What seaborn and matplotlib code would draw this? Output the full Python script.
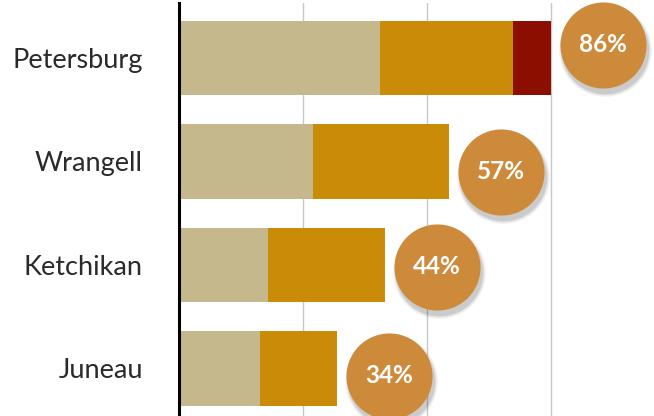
import matplotlib
matplotlib.use("Agg")
import matplotlib.pyplot as plt
import seaborn as sns
import pandas as pd
import numpy as np

categories = ["Petersburg", "Wrangell", "Ketchikan", "Juneau"]
seg_beige = [40.5, 27.0, 17.9, 16.3]
seg_gold = [26.8, 27.4, 23.6, 15.5]
seg_red = [7.7, 0.0, 0.0, 0.0]
pct_labels = ["86%", "57%", "44%", "34%"]
badge_dy = [-0.125, 0.10, 0.02, 0.07]

sns.set_theme(style="white")
plt.rcParams["font.family"] = ["Lato", "DejaVu Sans"]

c_beige = "#C5B88C"
c_gold = "#C98B08"
c_red = "#8B0E00"
c_badge = "#CD8A3B"

df = pd.DataFrame({"cat": categories, "b": seg_beige, "g": seg_gold, "r": seg_red})
df["t1"] = df["b"]
df["t2"] = df["b"] + df["g"]
df["t3"] = df["t2"] + df["r"]

W, H = 654, 416
fig = plt.figure(figsize=(W / 100, H / 100), dpi=100)
ax = fig.add_axes([179 / W, 0, (W - 179) / W, 413 / H])

for col, color in [("t3", c_red), ("t2", c_gold), ("t1", c_beige)]:
    sns.barplot(data=df, y="cat", x=col, color=color, orient="h", width=0.72,
                ax=ax, saturation=1, edgecolor="none", linewidth=0, zorder=3)

ax.set_xlim(0, (W - 179) / 4.96)
ax.set_ylim(3.46, -0.53)
ax.set_xticks([25, 50, 75])
ax.set_xticklabels([])
ax.xaxis.grid(True, color="#c8c8c8", linewidth=1.0, zorder=0)
ax.yaxis.grid(False)
ax.set_xlabel("")
ax.set_ylabel("")
for s in ["top", "right", "bottom"]:
    ax.spines[s].set_visible(False)
ax.spines["left"].set_color("black")
ax.spines["left"].set_linewidth(2.2)
ax.spines["left"].set_zorder(5)
ax.tick_params(axis="y", length=0, pad=26)
ax.tick_params(axis="x", length=0)
for lbl in ax.get_yticklabels():
    lbl.set_fontsize(19.5)
    lbl.set_fontweight("normal")
    lbl.set_color("#2a2a2a")

totals = df["t3"].to_numpy()
ys = np.arange(len(categories)) + np.array(badge_dy)
xs = totals + 10.5
# soft shadow
for a, grow in [(0.05, 1.16), (0.07, 1.09), (0.09, 1.03)]:
    ax.scatter(xs + 0.4, ys + 0.05, s=3844 * grow, color="black", alpha=a,
               linewidths=0, zorder=6, clip_on=False)
ax.scatter(xs, ys, s=3844, color=c_badge, linewidths=0, zorder=7, clip_on=False)
for x, y, t in zip(xs, ys, pct_labels):
    ax.text(x, y, t, ha="center", va="center", color="white", fontsize=17.5,
            fontweight="bold", zorder=8)

fig.savefig("out.png", dpi=100)
